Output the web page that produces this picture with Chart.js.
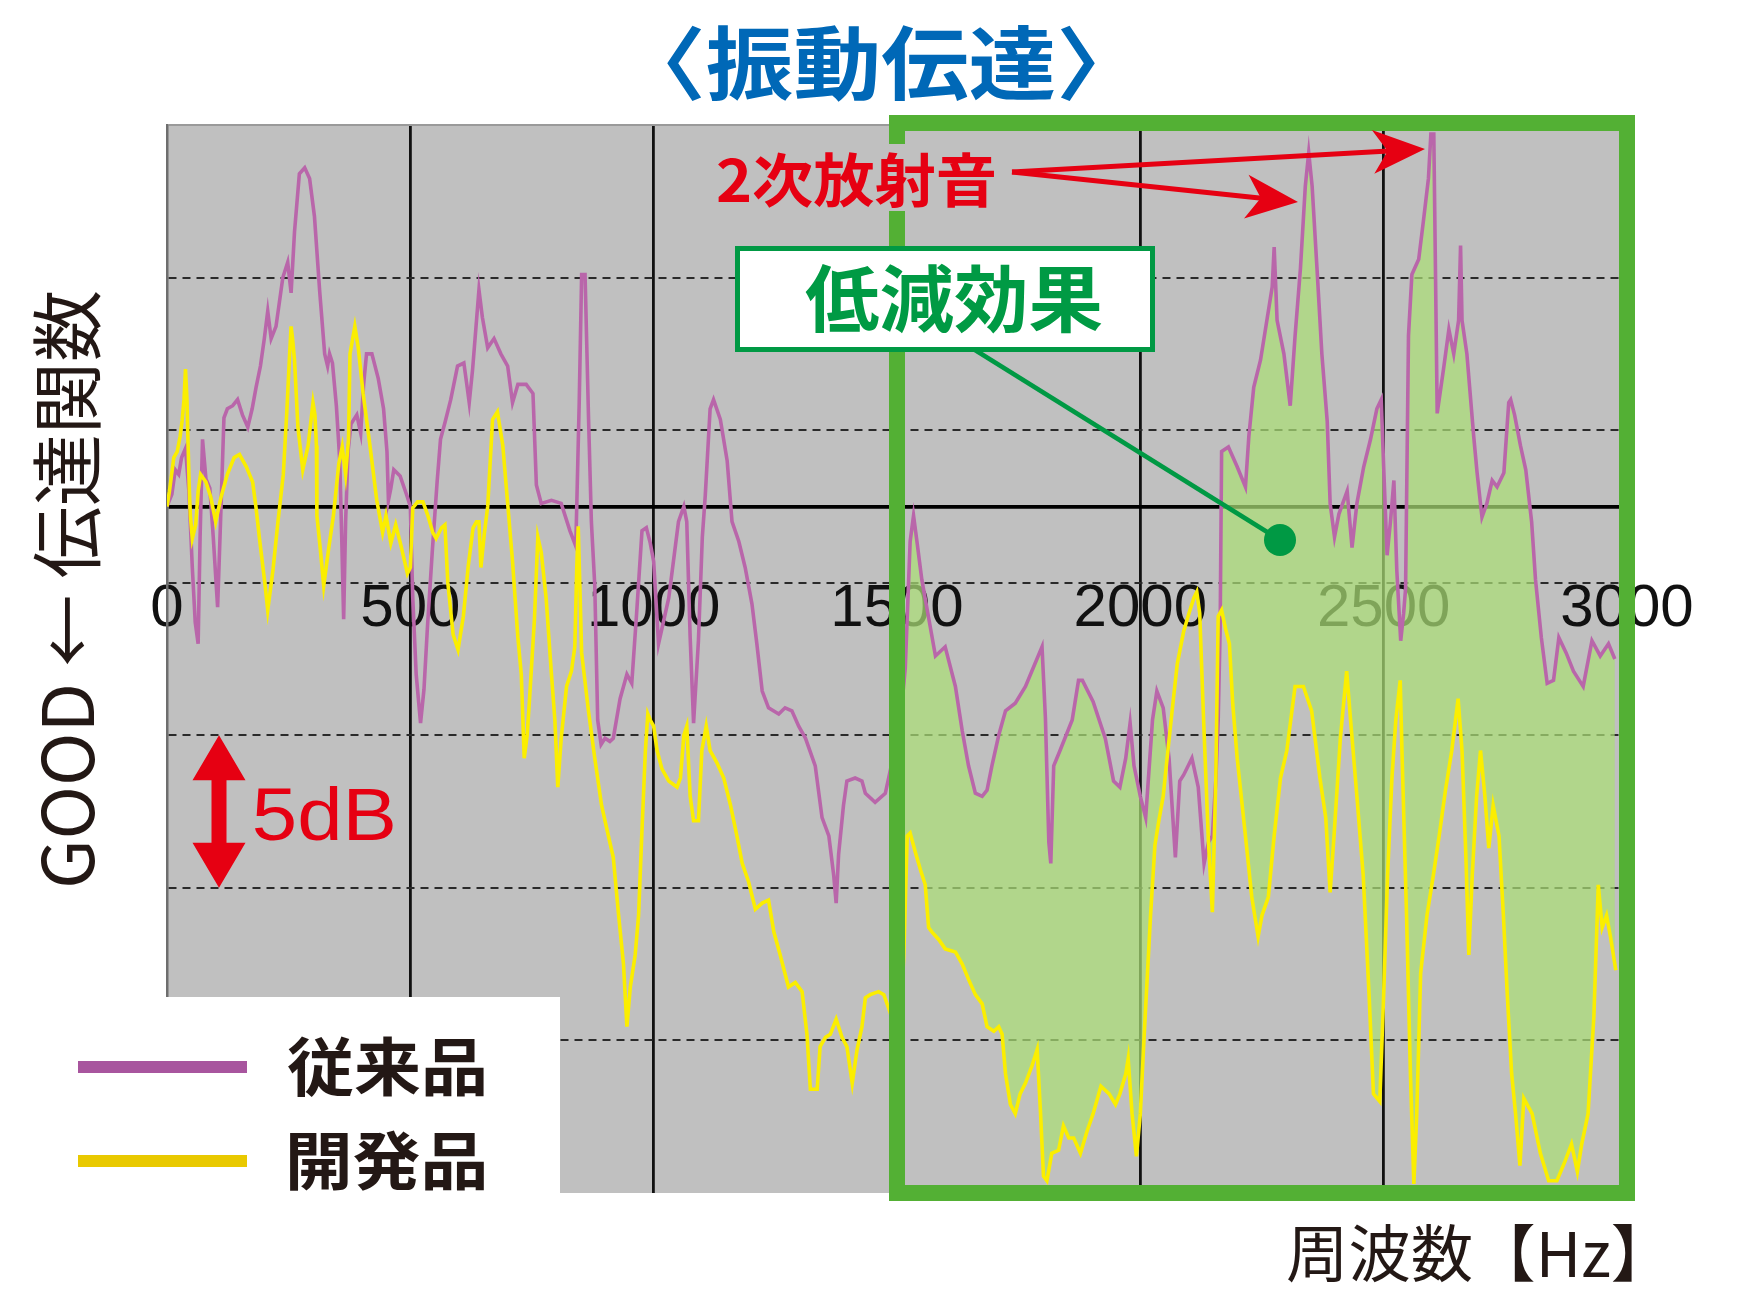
<!DOCTYPE html>
<html>
<head>
<meta charset="utf-8">
<script src="https://cdn.jsdelivr.net/npm/chart.js@4.4.1/dist/chart.umd.min.js"></script>
<style>
  html, body { margin: 0; padding: 0; background: #ffffff; }
  canvas { display: block; }
</style>
</head>
<body>
<canvas id="chart" width="1746" height="1290"></canvas>
<script>
// ---------------- data ----------------
const SERIES_LABELS = ['従来品', '開発品'];
const FREQ_TICKS = [0, 500, 1000, 1500, 2000, 2500, 3000];
const LEVEL_GRID = [-22.5, -17.5, -12.5, -7.5, -2.5, 0, 2.5, 7.5, 12.5];
const TITLE_TEXT = '〈振動伝達〉';
const Y_TITLE_TEXT = 'GOOD ← 伝達関数';
const X_TITLE_TEXT = '周波数【Hz】';
const NOTE_PEAKS = '2次放射音';
const NOTE_EFFECT = '低減効果';
const NOTE_SCALE = '5dB';
const REDUCTION_FROM_HZ = 1495;

// [frequency Hz, level dB relative to the solid reference line]
const CONVENTIONAL = [
  [0,0.0],[10,0.4],[17,1.2],[24,1.05],[30,1.6],[38,1.9],[45,0.5],[52,-2.0],[58,-3.8],[64,-4.5],
  [68,-1.0],[73,2.2],[80,0.9],[88,0.6],[95,-1.0],[104,-3.3],[110,-0.5],[117,2.9],[124,3.2],[135,3.3],
  [145,3.5],[155,3.0],[166,2.6],[175,3.2],[183,3.9],[192,4.6],[200,5.5],[207,6.4],[214,5.5],[224,5.9],
  [238,7.5],[248,8.0],[255,7.0],[262,9.0],[272,10.9],[283,11.1],[293,10.75],[303,9.5],[314,7.0],[324,5.0],
  [330,4.6],[334,5.0],[340,4.7],[348,3.3],[355,1.5],[359,-1.0],[363,-3.7],[367,-0.5],[372,1.8],[378,2.7],
  [390,3.0],[398,2.4],[404,4.0],[410,5.0],[421,5.0],[434,4.2],[445,3.2],[452,1.8],[455,0.2],[460,0.6],
  [466,1.2],[479,1.0],[493,0.35],[500,0.0],[505,-3.0],[512,-5.5],[521,-7.1],[528,-6.0],[535,-4.0],[545,-1.5],
  [555,0.8],[562,2.2],[572,2.8],[583,3.5],[597,4.6],[610,4.7],[616,4.0],[621,3.4],[628,4.5],[641,7.1],
  [648,6.2],[659,5.2],[672,5.5],[686,5.0],[700,4.6],[710,3.4],[721,4.0],[738,4.0],[752,3.7],[759,0.7],
  [769,0.1],[790,0.2],[810,0.1],[828,-0.8],[840,-1.3],[847,3.4],[852,7.6],[859,7.6],[866,3.0],[872,-0.5],
  [879,-2.6],[885,-7.0],[892,-7.8],[900,-7.6],[910,-7.7],[917,-7.6],[931,-6.3],[945,-5.5],[955,-5.8],[965,-3.5],
  [976,-0.8],[985,-0.7],[993,-1.2],[1000,-1.8],[1010,-4.5],[1017,-4.0],[1031,-3.0],[1051,-0.5],[1062,0.0],[1068,-0.5],
  [1075,-4.3],[1082,-7.1],[1092,-4.4],[1100,-1.0],[1106,0.35],[1116,3.2],[1123,3.5],[1137,2.85],[1151,1.5],[1161,-0.5],
  [1175,-1.15],[1188,-2.0],[1202,-3.2],[1212,-4.5],[1223,-6.05],[1236,-6.6],[1257,-6.8],[1270,-6.6],[1284,-6.7],[1298,-7.2],
  [1312,-7.6],[1332,-8.5],[1346,-10.2],[1360,-10.8],[1370,-12.1],[1375,-13.0],[1380,-11.4],[1390,-9.8],[1397,-9.0],[1414,-8.9],
  [1428,-9.0],[1435,-9.4],[1455,-9.7],[1476,-9.4],[1495,-8.0],[1510,-6.5],[1517,-5.3],[1527,-1.15],[1534,-0.3],[1541,-1.15],
  [1551,-2.4],[1565,-3.65],[1579,-4.9],[1599,-4.6],[1620,-5.9],[1634,-7.35],[1647,-8.5],[1661,-9.4],[1675,-9.5],[1685,-9.3],
  [1695,-8.5],[1709,-7.5],[1723,-6.7],[1743,-6.45],[1764,-5.9],[1777,-5.4],[1798,-4.6],[1805,-6.95],[1812,-11.0],[1816,-11.7],
  [1822,-8.5],[1835,-8.0],[1860,-7.0],[1873,-5.7],[1881,-5.7],[1903,-6.4],[1928,-7.6],[1945,-9.0],[1958,-9.2],[1970,-8.25],
  [1979,-7.1],[1987,-8.5],[2000,-9.5],[2011,-10.2],[2025,-7.0],[2034,-6.05],[2047,-6.6],[2059,-8.25],[2072,-11.5],[2081,-9.0],
  [2089,-8.8],[2106,-8.25],[2119,-9.2],[2131,-11.7],[2140,-11.0],[2148,-10.8],[2155,-9.0],[2160,-7.0],[2164,-4.0],[2167,1.8],
  [2181,1.95],[2199,1.3],[2216,0.64],[2223,2.3],[2233,3.9],[2247,4.8],[2257,5.8],[2271,7.2],[2275,8.5],[2281,6.1],
  [2295,5.0],[2308,3.3],[2318,5.6],[2329,7.8],[2339,10.5],[2346,11.6],[2353,10.5],[2363,7.8],[2373,5.0],[2384,2.8],
  [2390,0.1],[2399,-1.0],[2408,-0.25],[2425,0.5],[2435,-1.35],[2445,0.1],[2459,1.3],[2473,2.2],[2486,3.2],[2495,3.5],
  [2500,1.3],[2507,-1.6],[2514,-0.5],[2521,0.85],[2527,-2.1],[2535,-4.4],[2541,-3.5],[2545,-2.7],[2551,5.6],[2558,7.6],
  [2572,8.1],[2582,9.4],[2592,10.75],[2597,12.2],[2603,12.2],[2606,8.3],[2610,3.05],[2623,4.5],[2634,5.8],[2644,5.0],
  [2654,6.1],[2658,8.55],[2661,6.1],[2671,5.0],[2685,2.3],[2692,1.1],[2702,-0.35],[2712,0.1],[2723,0.85],[2733,0.64],
  [2747,1.1],[2757,3.4],[2761,3.5],[2769,3.0],[2781,2.0],[2792,1.2],[2804,-0.5],[2812,-2.4],[2824,-4.3],[2836,-5.8],
  [2849,-5.7],[2860,-4.3],[2875,-4.8],[2890,-5.4],[2902,-5.7],[2910,-5.9],[2928,-4.4],[2945,-4.9],[2962,-4.5],[2975,-5.0]
];

const DEVELOPED = [
  [0,0.0],[5,0.5],[14,1.6],[21,1.8],[27,2.3],[31,2.8],[35,3.5],[38,4.5],[41,3.5],[43,2.2],
  [46,0.5],[48,-0.3],[52,-1.05],[59,-0.6],[64,0.5],[69,1.05],[80,0.8],[90,0.3],[100,-0.5],[111,0.3],
  [124,1.05],[138,1.6],[149,1.7],[163,1.3],[176,0.8],[183,-0.05],[190,-1.05],[201,-2.5],[207,-3.4],[218,-2.05],
  [228,-0.5],[239,1.05],[246,3.05],[252,5.0],[255,5.9],[258,5.5],[262,4.8],[269,2.6],[279,1.2],[290,2.0],
  [300,3.4],[304,3.0],[307,2.0],[308,-0.3],[315,-1.4],[322,-2.6],[332,-1.4],[342,-0.3],[353,1.4],[360,1.95],
  [367,1.05],[373,2.2],[376,5.0],[386,5.9],[393,5.2],[403,3.7],[417,2.0],[431,0.2],[443,-0.85],[450,-0.3],
  [460,-1.2],[470,-0.6],[481,-1.3],[494,-2.2],[500,-2.0],[505,-0.05],[515,0.15],[526,0.15],[536,-0.3],[546,-0.85],
  [553,-1.05],[564,-0.7],[571,-0.6],[577,-2.5],[588,-4.2],[598,-4.7],[609,-3.6],[619,-1.95],[629,-0.7],[636,-0.5],
  [641,-0.5],[645,-2.0],[652,-0.9],[659,0.0],[669,2.85],[679,3.1],[690,2.0],[700,0.1],[710,-1.8],[721,-4.3],
  [728,-5.5],[734,-8.25],[740,-7.5],[745,-6.3],[755,-3.7],[762,-1.0],[769,-1.5],[779,-3.0],[790,-5.5],[797,-7.0],
  [803,-9.2],[810,-7.6],[821,-5.9],[831,-5.4],[838,-4.6],[842,-2.0],[845,-0.65],[849,-3.0],[852,-4.8],[866,-6.7],
  [879,-8.25],[893,-9.8],[907,-10.8],[917,-11.5],[928,-13.4],[938,-15.0],[945,-17.05],[952,-15.75],[962,-14.7],[969,-13.4],
  [976,-10.6],[983,-8.0],[988,-6.8],[993,-7.0],[1000,-7.2],[1007,-8.0],[1017,-8.6],[1031,-9.0],[1048,-9.2],[1055,-8.9],
  [1062,-7.5],[1068,-7.2],[1075,-9.5],[1082,-10.3],[1092,-10.3],[1099,-8.0],[1108,-7.2],[1116,-8.0],[1130,-8.4],[1144,-8.9],
  [1158,-9.8],[1171,-10.8],[1182,-11.7],[1195,-12.3],[1209,-13.2],[1223,-13.0],[1236,-12.9],[1247,-13.95],[1260,-14.7],[1277,-15.75],
  [1291,-15.6],[1305,-15.9],[1315,-17.3],[1322,-19.1],[1336,-19.1],[1342,-17.7],[1353,-17.4],[1363,-17.3],[1375,-16.8],[1387,-17.4],
  [1397,-17.7],[1408,-18.9],[1418,-17.8],[1428,-17.05],[1435,-16.1],[1445,-16.0],[1462,-15.9],[1473,-16.0],[1495,-17.0],[1510,-16.0],
  [1514,-14.7],[1521,-10.8],[1527,-10.7],[1538,-11.35],[1548,-11.9],[1558,-12.4],[1565,-13.8],[1572,-13.95],[1586,-14.2],[1599,-14.5],
  [1620,-14.6],[1634,-15.0],[1647,-15.5],[1661,-16.0],[1675,-16.3],[1685,-17.05],[1699,-17.2],[1709,-17.05],[1716,-17.3],[1723,-18.6],
  [1733,-19.6],[1743,-19.9],[1753,-19.25],[1764,-18.9],[1777,-18.35],[1788,-17.8],[1795,-19.9],[1801,-21.95],[1808,-22.1],[1818,-21.2],
  [1832,-21.1],[1842,-20.3],[1853,-20.7],[1863,-20.7],[1877,-21.2],[1890,-20.5],[1903,-19.9],[1919,-19.0],[1936,-19.25],[1949,-19.6],
  [1958,-19.25],[1970,-18.6],[1975,-18.1],[1983,-19.9],[1992,-21.3],[2000,-19.9],[2008,-17.3],[2021,-13.4],[2030,-11.1],[2038,-10.3],
  [2047,-9.5],[2055,-8.25],[2068,-6.3],[2076,-5.15],[2089,-4.1],[2100,-3.5],[2110,-3.0],[2116,-2.8],[2122,-3.5],[2130,-7.0],
  [2140,-11.0],[2148,-13.3],[2155,-9.0],[2160,-3.6],[2167,-3.4],[2175,-4.0],[2183,-4.5],[2190,-6.5],[2199,-8.25],[2216,-10.8],
  [2229,-12.8],[2242,-14.1],[2250,-13.4],[2263,-12.8],[2275,-10.8],[2288,-8.9],[2301,-8.0],[2318,-5.9],[2335,-5.9],[2352,-6.7],
  [2369,-8.9],[2381,-10.2],[2390,-12.65],[2398,-10.8],[2411,-7.6],[2424,-5.4],[2432,-7.0],[2445,-9.5],[2458,-12.1],[2470,-16.0],
  [2479,-19.25],[2492,-19.5],[2500,-16.0],[2508,-12.1],[2517,-8.9],[2525,-7.0],[2534,-5.7],[2538,-8.25],[2547,-13.4],[2555,-18.6],
  [2562,-22.2],[2568,-19.9],[2576,-15.3],[2589,-13.4],[2602,-12.1],[2614,-10.8],[2627,-9.3],[2640,-8.0],[2653,-6.3],[2661,-8.0],
  [2669,-11.5],[2675,-14.7],[2682,-12.1],[2691,-9.5],[2699,-8.0],[2708,-9.5],[2716,-11.2],[2725,-9.8],[2737,-10.8],[2746,-13.4],
  [2754,-16.0],[2763,-18.6],[2771,-19.9],[2780,-21.6],[2788,-19.4],[2805,-19.9],[2822,-21.2],[2839,-22.1],[2856,-22.1],[2873,-21.45],
  [2886,-20.9],[2898,-21.8],[2907,-20.9],[2920,-19.9],[2932,-16.7],[2941,-12.4],[2949,-13.8],[2958,-13.4],[2966,-14.1],[2977,-15.2]
];

// ---------------- styles ----------------
const PURPLE = '#b966aa';
const YELLOW = '#fbee00';
const FILL_GREEN = 'rgba(170,222,118,0.72)';
const FRAME_GREEN = '#53b034';
const CALLOUT_GREEN = '#009944';
const RED = '#e60012';
const TITLE_BLUE = '#0068b7';
const INK = '#231815';
const PLOT_GREY = '#c0c0c0';
const CJK = '"Noto Sans CJK JP", "Noto Sans CJK SC", sans-serif';

const toXY = arr => arr.map(p => ({ x: p[0], y: p[1] }));

function fitText(ctx, text, font, color, box, rotated) {
  ctx.save();
  ctx.font = font;
  ctx.textAlign = 'left';
  ctx.textBaseline = 'alphabetic';
  ctx.fillStyle = color;
  const m = ctx.measureText(text);
  const w = m.actualBoundingBoxLeft + m.actualBoundingBoxRight;
  const h = m.actualBoundingBoxAscent + m.actualBoundingBoxDescent;
  if (rotated) {
    ctx.translate(box.x0, box.y1);
    ctx.rotate(-Math.PI / 2);
    ctx.scale((box.y1 - box.y0) / w, (box.x1 - box.x0) / h);
  } else {
    ctx.translate(box.x0, box.y0);
    ctx.scale((box.x1 - box.x0) / w, (box.y1 - box.y0) / h);
  }
  ctx.fillText(text, m.actualBoundingBoxLeft, m.actualBoundingBoxAscent);
  ctx.restore();
}

function arrow(ctx, x0, y0, x1, y1, lw, headLen, headW, color) {
  const ang = Math.atan2(y1 - y0, x1 - x0);
  const L = Math.hypot(x1 - x0, y1 - y0);
  ctx.save();
  ctx.translate(x1, y1);
  ctx.rotate(ang);
  ctx.strokeStyle = color;
  ctx.lineWidth = lw;
  ctx.beginPath();
  ctx.moveTo(-L, 0);
  ctx.lineTo(-headLen * 0.7, 0);
  ctx.stroke();
  ctx.fillStyle = color;
  ctx.beginPath();
  ctx.moveTo(0, 0);
  ctx.lineTo(-headLen, -headW / 2);
  ctx.lineTo(-headLen * 0.72, 0);
  ctx.lineTo(-headLen, headW / 2);
  ctx.closePath();
  ctx.fill();
  ctx.restore();
}

const plotBackground = {
  id: 'plotBackground',
  beforeDraw(chart) {
    const { ctx, chartArea: a } = chart;
    ctx.save();
    ctx.fillStyle = PLOT_GREY;
    ctx.fillRect(a.left, a.top, a.right - a.left, a.bottom - a.top);
    ctx.restore();
  }
};

const decorations = {
  id: 'decorations',
  afterDraw(chart) {
    const { ctx, scales: { x, y } } = chart;
    const X = v => x.getPixelForValue(v);
    const Y = v => y.getPixelForValue(v);
    ctx.save();

    // green frame around the reduction region (1500–3000 Hz)
    ctx.strokeStyle = FRAME_GREEN;
    ctx.lineWidth = 16;
    ctx.strokeRect(X(1500), Y(12.5) - 2, X(3000) - X(1500), Y(-22.5) - Y(12.5) + 2);

    // "2次放射音" with grey knock-out background
    ctx.fillStyle = PLOT_GREY;
    ctx.fillRect(712, 144, 292, 67);
    fitText(ctx, NOTE_PEAKS, '700 60px ' + CJK, RED, { x0: 718, y0: 152, x1: 995, y1: 208 });
    arrow(ctx, 1012, 172, 1298, 202, 5, 52, 44, RED);
    arrow(ctx, 1012, 172, 1425, 149, 5, 52, 44, RED);

    // "低減効果" callout
    ctx.strokeStyle = CALLOUT_GREEN;
    ctx.lineWidth = 4.5;
    ctx.beginPath();
    ctx.moveTo(975, 350);
    ctx.lineTo(1280, 540);
    ctx.stroke();
    ctx.fillStyle = CALLOUT_GREEN;
    ctx.beginPath();
    ctx.arc(1280, 540, 16, 0, Math.PI * 2);
    ctx.fill();
    ctx.fillStyle = '#ffffff';
    ctx.fillRect(737, 248, 416, 102);
    ctx.lineWidth = 5;
    ctx.strokeRect(737.5, 248.5, 415, 101);
    fitText(ctx, NOTE_EFFECT, '700 78px ' + CJK, '#009a44', { x0: 805, y0: 263, x1: 1102, y1: 333 });

    // 5dB scale arrow (spans one grid interval: -7.5 .. -12.5)
    const ax = 219, top = Y(-7.5), bot = Y(-12.5), hl = 45, hw = 26.5, sw = 7.5;
    ctx.fillStyle = RED;
    ctx.beginPath();
    ctx.moveTo(ax, top);
    ctx.lineTo(ax + hw, top + hl);
    ctx.lineTo(ax + sw, top + hl);
    ctx.lineTo(ax + sw, bot - hl);
    ctx.lineTo(ax + hw, bot - hl);
    ctx.lineTo(ax, bot);
    ctx.lineTo(ax - hw, bot - hl);
    ctx.lineTo(ax - sw, bot - hl);
    ctx.lineTo(ax - sw, top + hl);
    ctx.lineTo(ax - hw, top + hl);
    ctx.closePath();
    ctx.fill();
    fitText(ctx, NOTE_SCALE, '400 76px "Liberation Sans", Arial, sans-serif', RED, { x0: 255, y0: 786, x1: 393, y1: 841 });

    // legend box
    ctx.fillStyle = '#ffffff';
    ctx.fillRect(150, 997, 410, 200);
    ctx.lineCap = 'butt';
    ctx.lineWidth = 12;
    ctx.strokeStyle = '#a8559e';
    ctx.beginPath(); ctx.moveTo(78, 1067); ctx.lineTo(247, 1067); ctx.stroke();
    ctx.strokeStyle = '#e9c900';
    ctx.beginPath(); ctx.moveTo(78, 1161); ctx.lineTo(247, 1161); ctx.stroke();
    fitText(ctx, SERIES_LABELS[0], '700 64px ' + CJK, INK, { x0: 288, y0: 1036, x1: 484, y1: 1097 });
    fitText(ctx, SERIES_LABELS[1], '700 64px ' + CJK, INK, { x0: 290, y0: 1130, x1: 484, y1: 1191 });

    // titles
    fitText(ctx, TITLE_TEXT, '700 88px ' + CJK, TITLE_BLUE, { x0: 667, y0: 25, x1: 1095, y1: 102 });
    fitText(ctx, Y_TITLE_TEXT, '400 70px ' + CJK, INK, { x0: 33, y0: 292, x1: 100, y1: 885 }, true);
    fitText(ctx, X_TITLE_TEXT, '400 62px ' + CJK, INK, { x0: 1288, y0: 1223, x1: 1632, y1: 1283 });

    ctx.restore();
  }
};

function build() {
  const ctx = document.getElementById('chart').getContext('2d');
  new Chart(ctx, {
    type: 'line',
    data: {
      datasets: [
        { label: SERIES_LABELS[1], data: toXY(DEVELOPED), borderColor: YELLOW, borderWidth: 3.6,
          pointRadius: 0, tension: 0, fill: false },
        { label: SERIES_LABELS[0], data: toXY(CONVENTIONAL), borderColor: PURPLE, borderWidth: 3.6,
          pointRadius: 0, tension: 0, fill: false },
        { label: NOTE_EFFECT, data: toXY(CONVENTIONAL.filter(p => p[0] >= REDUCTION_FROM_HZ)),
          borderColor: 'rgba(0,0,0,0)', borderWidth: 0, pointRadius: 0, tension: 0,
          fill: { target: 3, above: FILL_GREEN, below: 'rgba(0,0,0,0)' } },
        { label: NOTE_EFFECT + ' base', data: toXY(DEVELOPED.filter(p => p[0] >= REDUCTION_FROM_HZ)),
          borderColor: 'rgba(0,0,0,0)', borderWidth: 0, pointRadius: 0, tension: 0, fill: false }
      ]
    },
    options: {
      responsive: false,
      animation: false,
      devicePixelRatio: 1,
      layout: { padding: { left: 167, right: 119, top: 125, bottom: 97 } },
      plugins: { legend: { display: false }, tooltip: { enabled: false }, title: { display: false } },
      scales: {
        x: {
          type: 'linear', min: 0, max: 3000,
          position: { y: -2.5 },
          afterBuildTicks: s => { s.ticks = FREQ_TICKS.map(v => ({ value: v })); },
          ticks: {
            autoSkip: false, maxRotation: 0, minRotation: 0, padding: -9, color: '#111111',
            font: { family: '"Liberation Sans", Arial, sans-serif', size: 60 },
            callback: v => String(v)
          },
          grid: {
            drawTicks: false,
            color: c => (c.tick && (c.tick.value === 0 || c.tick.value === 3000)) ? 'rgba(0,0,0,0)' : '#111111',
            lineWidth: 2.8
          },
          border: { display: false }
        },
        y: {
          type: 'linear', min: -22.5, max: 12.5,
          afterBuildTicks: s => { s.ticks = LEVEL_GRID.map(v => ({ value: v })); },
          ticks: { display: false },
          grid: {
            drawTicks: false,
            color: c => {
              const v = c.tick ? c.tick.value : null;
              if (v === 0) return '#000000';
              if (v === 12.5) return '#9a9a9a';
              if (v === -22.5) return 'rgba(0,0,0,0)';
              return '#2a2a2a';
            },
            lineWidth: c => {
              const v = c.tick ? c.tick.value : null;
              if (v === 0) return 3.8;
              return 2;
            }
          },
          border: {
            display: true, color: '#6e6e6e', width: 2.5,
            dash: c => {
              const v = c.tick ? c.tick.value : null;
              if (v === null || v === 0 || v === 12.5) return [];
              return [8, 6];
            }
          }
        }
      }
    },
    plugins: [plotBackground, decorations]
  });
}

const fontLoads = [
  '700 88px "Noto Sans CJK JP"', '400 70px "Noto Sans CJK JP"', '60px "Liberation Sans"'
].map(f => (document.fonts && document.fonts.load) ? document.fonts.load(f, '振動伝達GOOD0') : Promise.resolve());
Promise.race([Promise.all(fontLoads), new Promise(r => setTimeout(r, 1500))]).then(build, build);
</script>
</body>
</html>
